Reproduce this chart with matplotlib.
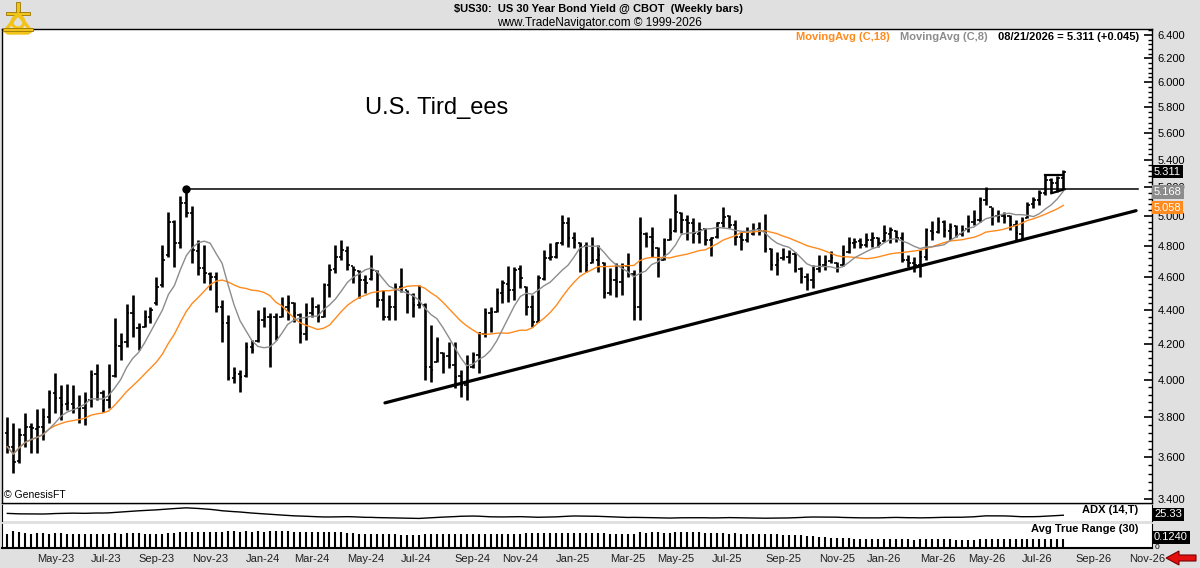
import numpy as np
import pandas as pd
import matplotlib
matplotlib.use('Agg')
import matplotlib.pyplot as plt
import matplotlib.transforms as mtransforms
from matplotlib.ticker import FixedLocator, FormatStrFormatter, NullFormatter
from matplotlib.patches import Polygon, Circle

plt.rcParams['font.family'] = ['Liberation Sans', 'DejaVu Sans']

# ---------------- data (weekly OHLC, $US30 yield) ----------------
last_date = '2026-08-21'

opens = [3.72, 3.65, 3.58, 3.71, 3.75, 3.74, 3.75, 3.80, 3.93, 3.90,
         3.87, 3.87, 3.85, 3.85, 3.89, 4.03, 3.93, 3.89, 4.02, 4.19,
         4.21, 4.38, 4.29, 4.30, 4.36, 4.44, 4.55, 4.74, 4.96, 4.82,
         5.09, 5.02, 4.77, 4.66, 4.62, 4.60, 4.42, 4.32, 4.01, 4.03,
         4.02, 4.18, 4.22, 4.34, 4.36, 4.36, 4.36, 4.42, 4.44, 4.37,
         4.26, 4.38, 4.42, 4.36, 4.55, 4.65, 4.73, 4.77, 4.67, 4.64,
         4.58, 4.59, 4.64, 4.46, 4.36, 4.42, 4.54, 4.52, 4.49, 4.43,
         4.43, 4.07, 4.10, 4.15, 4.13, 4.08, 4.02, 3.97, 4.07, 4.14,
         4.26, 4.38, 4.39, 4.50, 4.56, 4.52, 4.65, 4.54, 4.42, 4.33,
         4.59, 4.72, 4.73, 4.82, 4.95, 4.85, 4.82, 4.80, 4.69, 4.71,
         4.69, 4.50, 4.58, 4.57, 4.67, 4.62, 4.42, 4.88, 4.86, 4.79,
         4.71, 4.84, 4.90, 5.02, 4.97, 4.95, 4.88, 4.91, 4.84, 4.86,
         4.95, 5.00, 4.94, 4.86, 4.84, 4.88, 4.91, 4.90, 4.78, 4.68,
         4.72, 4.73, 4.75, 4.65, 4.60, 4.58, 4.65, 4.68, 4.70, 4.69,
         4.68, 4.76, 4.82, 4.83, 4.81, 4.84, 4.85, 4.83, 4.88, 4.90,
         4.85, 4.71, 4.69, 4.68, 4.73, 4.90, 4.89, 4.96, 4.90, 4.93,
         4.88, 4.91, 4.96, 4.97, 5.11, 5.06, 5.00, 5.00, 5.00, 4.94,
         4.88, 4.99, 5.08, 5.11, 5.16, 5.25, 5.23, 5.27]

highs = [3.804, 3.770, 3.744, 3.821, 3.770, 3.842, 3.847, 3.945, 4.035, 3.972,
         3.977, 3.972, 3.918, 3.936, 4.054, 4.087, 3.945, 4.087, 4.350, 4.261,
         4.436, 4.490, 4.320, 4.399, 4.419, 4.600, 4.807, 5.030, 4.973, 5.139,
         5.186, 5.070, 4.840, 4.807, 4.635, 4.635, 4.460, 4.369, 4.072, 4.054,
         4.213, 4.223, 4.399, 4.419, 4.379, 4.379, 4.480, 4.490, 4.450, 4.379,
         4.444, 4.476, 4.436, 4.566, 4.684, 4.807, 4.840, 4.800, 4.671, 4.646,
         4.614, 4.742, 4.646, 4.521, 4.490, 4.562, 4.657, 4.521, 4.500, 4.552,
         4.440, 4.310, 4.238, 4.156, 4.213, 4.213, 4.054, 4.137, 4.156, 4.271,
         4.409, 4.419, 4.531, 4.583, 4.671, 4.667, 4.678, 4.546, 4.490, 4.614,
         4.774, 4.818, 4.829, 5.007, 4.996, 4.895, 4.829, 4.829, 4.862, 4.807,
         4.699, 4.657, 4.688, 4.688, 4.753, 4.646, 4.996, 4.895, 4.929, 4.796,
         4.851, 4.984, 5.153, 5.030, 5.007, 4.984, 4.962, 4.917, 4.862, 4.962,
         5.064, 5.007, 4.973, 4.895, 4.929, 4.951, 4.962, 5.012, 4.785, 4.764,
         4.785, 4.774, 4.764, 4.667, 4.625, 4.678, 4.742, 4.742, 4.770, 4.699,
         4.807, 4.862, 4.851, 4.851, 4.884, 4.895, 4.862, 4.940, 4.927, 4.906,
         4.895, 4.742, 4.731, 4.774, 4.917, 4.967, 4.996, 4.973, 4.951, 4.940,
         4.940, 5.007, 5.042, 5.134, 5.204, 5.064, 5.042, 5.030, 5.007, 4.973,
         4.996, 5.099, 5.134, 5.181, 5.288, 5.264, 5.280, 5.324]

lows = [3.618, 3.521, 3.569, 3.651, 3.619, 3.619, 3.685, 3.770, 3.821, 3.787,
        3.839, 3.821, 3.770, 3.761, 3.856, 3.891, 3.830, 3.847, 4.017, 4.109,
        4.184, 4.242, 4.166, 4.300, 4.320, 4.430, 4.541, 4.731, 4.667, 4.785,
        4.996, 4.688, 4.614, 4.562, 4.521, 4.389, 4.213, 3.999, 3.981, 3.936,
        4.017, 4.147, 4.213, 4.300, 4.072, 4.223, 4.359, 4.340, 4.330, 4.203,
        4.223, 4.359, 4.330, 4.359, 4.480, 4.625, 4.710, 4.646, 4.562, 4.470,
        4.500, 4.583, 4.419, 4.340, 4.340, 4.340, 4.511, 4.379, 4.359, 4.409,
        3.999, 3.990, 4.100, 4.035, 4.063, 3.954, 3.909, 3.891, 4.063, 4.035,
        4.242, 4.271, 4.389, 4.440, 4.450, 4.460, 4.531, 4.369, 4.300, 4.330,
        4.583, 4.710, 4.720, 4.807, 4.796, 4.785, 4.635, 4.635, 4.688, 4.635,
        4.470, 4.490, 4.480, 4.490, 4.604, 4.340, 4.340, 4.796, 4.731, 4.604,
        4.710, 4.840, 4.895, 4.884, 4.840, 4.818, 4.818, 4.807, 4.736, 4.851,
        4.929, 4.917, 4.807, 4.774, 4.829, 4.873, 4.873, 4.764, 4.646, 4.614,
        4.710, 4.688, 4.635, 4.562, 4.521, 4.531, 4.635, 4.646, 4.688, 4.635,
        4.671, 4.753, 4.785, 4.785, 4.796, 4.796, 4.796, 4.829, 4.818, 4.829,
        4.699, 4.667, 4.635, 4.600, 4.710, 4.840, 4.884, 4.862, 4.840, 4.862,
        4.866, 4.895, 4.940, 4.962, 5.076, 4.940, 4.962, 4.951, 4.906, 4.835,
        4.840, 4.984, 5.053, 5.076, 5.146, 5.158, 5.169, 5.190]

closes = [3.651, 3.578, 3.710, 3.752, 3.744, 3.752, 3.804, 3.927, 3.900, 3.865,
          3.874, 3.847, 3.847, 3.891, 4.027, 3.927, 3.891, 4.018, 4.194, 4.213,
          4.380, 4.291, 4.300, 4.359, 4.400, 4.541, 4.710, 4.962, 4.818, 5.088,
          5.019, 4.774, 4.660, 4.625, 4.604, 4.420, 4.320, 4.008, 4.035, 4.017,
          4.184, 4.166, 4.340, 4.359, 4.359, 4.242, 4.419, 4.440, 4.379, 4.261,
          4.379, 4.419, 4.359, 4.552, 4.646, 4.731, 4.774, 4.680, 4.646, 4.583,
          4.562, 4.646, 4.460, 4.359, 4.419, 4.541, 4.541, 4.490, 4.430, 4.430,
          4.072, 4.054, 4.223, 4.128, 4.081, 4.017, 3.972, 4.072, 4.137, 4.261,
          4.379, 4.389, 4.500, 4.562, 4.521, 4.646, 4.593, 4.419, 4.330, 4.593,
          4.720, 4.731, 4.818, 4.951, 4.851, 4.840, 4.807, 4.678, 4.710, 4.742,
          4.500, 4.583, 4.573, 4.667, 4.625, 4.419, 4.884, 4.862, 4.829, 4.710,
          4.840, 4.884, 5.030, 4.973, 4.951, 4.884, 4.906, 4.840, 4.851, 4.951,
          4.996, 4.940, 4.862, 4.840, 4.884, 4.906, 4.895, 4.780, 4.678, 4.710,
          4.731, 4.753, 4.646, 4.604, 4.583, 4.646, 4.678, 4.699, 4.720, 4.667,
          4.731, 4.818, 4.829, 4.807, 4.840, 4.851, 4.818, 4.884, 4.906, 4.851,
          4.710, 4.688, 4.678, 4.731, 4.906, 4.884, 4.962, 4.906, 4.929, 4.884,
          4.906, 4.962, 4.973, 5.111, 5.181, 4.996, 4.996, 4.996, 4.940, 4.884,
          4.973, 5.076, 5.111, 5.158, 5.252, 5.229, 5.266, 5.311]

# drawn studies (bar-index / yield)
res_x = [30, 189.5]          # horizontal resistance from Oct-23 peak
res_y = [5.186, 5.186]
trend_x = [63.3, 189.2]       # rising support line
trend_y = [3.876, 5.037]
flag_top_x = [173.9, 177.0]
flag_top_y = [5.288, 5.288]
flag_bot_x = [175.0, 177.2]
flag_bot_y = [5.158, 5.186]

# right-edge readouts
last_close_lbl = 5.311
ma8_lbl = 5.168
ma18_lbl = 5.058
adx_lbl = '25.33'
atr_lbl = '0.1240'

yticks = [3.4, 3.6, 3.8, 4.0, 4.2, 4.4, 4.6, 4.8, 5.0, 5.2, 5.4, 5.6, 5.8, 6.0, 6.2, 6.4]

# ---------------- derived series ----------------
n = len(closes)
x = np.arange(n)
dates = pd.date_range(end=last_date, periods=n, freq='W-FRI')
o = np.array(opens); h = np.array(highs); l = np.array(lows); c = np.array(closes)

cs = pd.Series(c)
ma18 = cs.rolling(18, min_periods=1).mean()
ma8 = cs.rolling(8, min_periods=1).mean()

hs, ls = pd.Series(h), pd.Series(l)
pc = cs.shift(1)
tr = pd.concat([hs - ls, (hs - pc).abs(), (ls - pc).abs()], axis=1).max(axis=1)
up = hs.diff(); dn = -ls.diff()
pdm = pd.Series(np.where((up > dn) & (up > 0), up, 0.0))
mdm = pd.Series(np.where((dn > up) & (dn > 0), dn, 0.0))


def wilder(s, p=14):
    s = s.astype(float).copy()
    s.iloc[0] = s.iloc[1:p + 1].mean()
    return s.ewm(alpha=1 / p, adjust=False).mean()


atr14 = wilder(tr)
pdi = 100 * wilder(pdm) / atr14
mdi = 100 * wilder(mdm) / atr14
dx = (100 * (pdi - mdi).abs() / (pdi + mdi)).fillna(0)
adx = wilder(dx)
atr30 = tr.rolling(30, min_periods=1).mean()

# month labels (left-aligned at first weekly bar of the month)
months = pd.date_range('2023-05-01', '2026-11-01', freq='2MS')
ext = pd.date_range(start=dates[0], periods=n + 20, freq='W-FRI')
mpos = [int(np.searchsorted(ext, m)) for m in months]
mlab = [m.strftime('%b-%y') for m in months]

# ---------------- figure ----------------
W, H = 1200, 568
fig = plt.figure(figsize=(W / 100, H / 100), dpi=100, facecolor='#e0e0e0')
pix = mtransforms.Affine2D().scale(1 / W, -1 / H).translate(0, 1) + fig.transFigure


def box(t, b):
    return [2 / W, 1 - b / H, 1150 / W, (b - t) / H]


ax = fig.add_axes(box(29, 503))
adx_ax = fig.add_axes(box(505, 521), sharex=ax)
atr_ax = fig.add_axes(box(524, 548), sharex=ax)

xmin, xmax = -0.89, n - 1 + 14.87

# main panel
ax.set_facecolor('white')
ax.set_yscale('log')
ax.set_ylim(3.3815, 6.4525)
ax.set_xlim(xmin, xmax)
ax.vlines(x, l, h, color='black', lw=1.9, zorder=3)
ax.hlines(o, x - 0.4, x, color='black', lw=1.2, zorder=3)
ax.hlines(c, x, x + 0.4, color='black', lw=1.2, zorder=3)
ax.plot(x, ma18, color='#ff8a1e', lw=1.0, zorder=4)
ax.plot(x, ma8, color='#8c8c8c', lw=1.0, zorder=4)

ax.plot(res_x, res_y, color='black', lw=1.1, zorder=5)
ax.plot([res_x[0]], [res_y[0]], 'o', color='black', ms=5, zorder=6)
ax.plot(trend_x, trend_y, color='black', lw=2.3, zorder=5, solid_capstyle='round')
ax.plot(flag_top_x, flag_top_y, color='black', lw=1.6, zorder=5)
ax.plot(flag_bot_x, flag_bot_y, color='black', lw=1.6, zorder=5)

ax.yaxis.tick_right()
ax.yaxis.set_major_locator(FixedLocator(yticks))
ax.yaxis.set_minor_locator(FixedLocator(np.arange(3.40, 6.441, 0.04)))
ax.yaxis.set_major_formatter(FormatStrFormatter('%.3f'))
ax.yaxis.set_minor_formatter(NullFormatter())
ax.tick_params(axis='y', which='major', direction='in', length=6, width=1.2,
               labelsize=8, pad=4, colors='black')
ax.tick_params(axis='y', which='minor', direction='in', length=3, width=1.0)
ax.tick_params(axis='x', which='both', bottom=False, labelbottom=False)
for s in ax.spines.values():
    s.set_color('black'); s.set_linewidth(1.0)

blend = mtransforms.blended_transform_factory(ax.transAxes, ax.transData)
xo = 1 + 2 / 1150
ax.text(xo, last_close_lbl, f'{last_close_lbl:.3f}', transform=blend, ha='left', va='center',
        color='white', fontsize=8, zorder=10,
        bbox=dict(facecolor='black', edgecolor='none', pad=1.2))
ax.text(xo, ma8_lbl, f'{ma8_lbl:.3f}', transform=blend, ha='left', va='center',
        color='white', fontsize=8, zorder=10,
        bbox=dict(facecolor='#8c8c8c', edgecolor='none', pad=1.2))
ax.text(xo, ma18_lbl, f'{ma18_lbl:.3f}', transform=blend, ha='left', va='center',
        color='white', fontsize=8, zorder=10,
        bbox=dict(facecolor='#ff8a1e', edgecolor='none', pad=1.2))

ax.text(794 / 1150, 0.983, 'MovingAvg (C,18)', transform=ax.transAxes, color='#ff8a1e',
        fontsize=8, fontweight='bold', ha='left', va='center')
ax.text(898 / 1150, 0.983, 'MovingAvg (C,8)', transform=ax.transAxes, color='#8c8c8c',
        fontsize=8, fontweight='bold', ha='left', va='center')
ax.text(996 / 1150, 0.983, f'08/21/2026 = {closes[-1]:.3f} (+0.045)', transform=ax.transAxes,
        color='black', fontsize=8, fontweight='bold', ha='left', va='center')
ax.text(363 / 1150, 0.833, 'U.S. Tird_ees', transform=ax.transAxes, color='black',
        fontsize=17, ha='left', va='center')
ax.text(2 / 1150, 0.017, '\u00a9 GenesisFT', transform=ax.transAxes, color='black',
        fontsize=7.5, ha='left', va='center')

# ADX panel
adx_ax.set_facecolor('white')
adx_ax.plot(x, adx, color='black', lw=1.0)
adx_ax.set_ylim(0, 65)
adx_ax.set_yticks([])
adx_ax.tick_params(axis='x', which='both', bottom=False, labelbottom=False)
for k, s in adx_ax.spines.items():
    s.set_visible(k in ('left', 'right'))
    s.set_color('black')
adx_ax.text(1136 / 1150, 0.69, 'ADX (14,T)', transform=adx_ax.transAxes, ha='right',
            va='center', fontsize=8, fontweight='bold')
adx_ax.text(xo, 0.42, adx_lbl, transform=adx_ax.transAxes, ha='left', va='center',
            color='white', fontsize=8, bbox=dict(facecolor='black', edgecolor='none', pad=1.2))

# ATR panel
atr_ax.set_facecolor('white')
atr_ax.vlines(x, 0, atr30, color='black', lw=1.5)
atr_ax.set_ylim(0, 0.31)
atr_ax.set_yticks([])
for k, s in atr_ax.spines.items():
    s.set_visible(k in ('left', 'right', 'bottom'))
    s.set_color('black')
atr_ax.spines['bottom'].set_linewidth(1.5)
atr_ax.text(1136 / 1150, 0.79, 'Avg True Range (30)', transform=atr_ax.transAxes, ha='right',
            va='center', fontsize=8, fontweight='bold')
atr_ax.text(xo, 0.45, atr_lbl, transform=atr_ax.transAxes, ha='left', va='center',
            color='white', fontsize=8, bbox=dict(facecolor='black', edgecolor='none', pad=1.2))
atr_ax.text(1 + 3 / 1150, 0.02, '0', transform=atr_ax.transAxes, ha='left', va='center',
            fontsize=6)
atr_ax.set_xticks(mpos)
atr_ax.set_xticklabels(mlab, ha='left', fontsize=8, color='#202020')
atr_ax.tick_params(axis='x', length=0, pad=4)
atr_ax.set_xlim(xmin, xmax)

# header
fig.text(598 / W, 1 - 9 / H, '$US30:  US 30 Year Bond Yield @ CBOT  (Weekly bars)',
         ha='center', va='center', fontsize=8, fontweight='bold', parse_math=False)
fig.text(599 / W, 1 - 23 / H, 'www.TradeNavigator.com \u00a9 1999-2026',
         ha='center', va='center', fontsize=8.5)

# logo (stylised sextant)
gold, dark = '#f2c318', '#9a7400'
fig.add_artist(Polygon([(16, 2), (20, 2), (20, 12), (16, 12)], closed=True, transform=pix,
                       facecolor=gold, edgecolor=dark, lw=0.6))
fig.add_artist(Polygon([(6, 12), (30, 12), (30, 15), (6, 15)], closed=True, transform=pix,
                       facecolor=gold, edgecolor=dark, lw=0.6))
fig.add_artist(Circle((18, 22), 6, transform=pix, facecolor='none', edgecolor=gold, lw=2.2))
fig.add_artist(Polygon([(5, 31), (18, 14), (31, 31), (28, 33), (8, 33)], closed=True,
                       transform=pix, facecolor='none', edgecolor=gold, lw=2.4))
fig.add_artist(Polygon([(3, 28), (33, 28), (33, 31), (3, 31)], closed=True, transform=pix,
                       facecolor=gold, edgecolor=dark, lw=0.6))

# red arrow at bottom right
fig.add_artist(Polygon([(1166, 558), (1179, 551), (1179, 555), (1196, 555), (1196, 561),
                        (1179, 561), (1179, 565)], closed=True, transform=pix,
                       facecolor='#e41010', edgecolor='#7a0000', lw=0.8))

fig.savefig('out.png', dpi=100, facecolor=fig.get_facecolor())
